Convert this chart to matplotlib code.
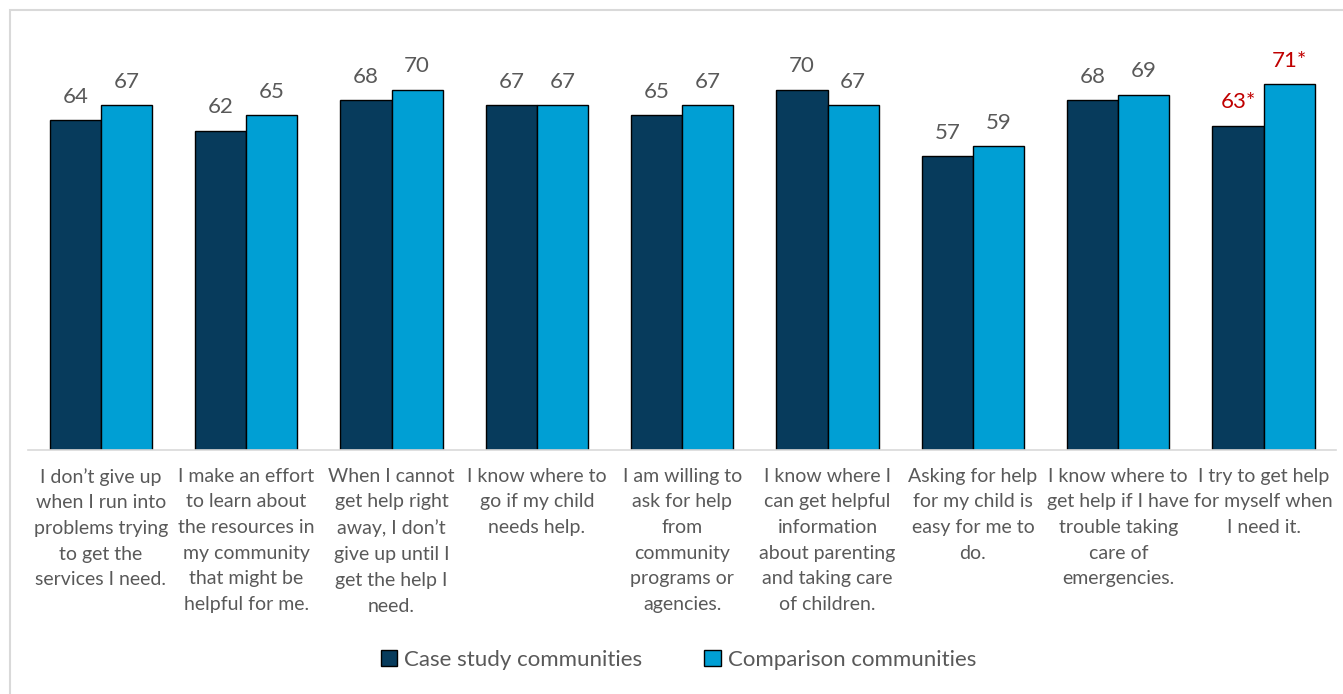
import numpy as np
import matplotlib.pyplot as plt
from matplotlib.patches import Rectangle

plt.rcParams['font.family'] = ['Lato', 'DejaVu Sans']

categories = [
    "I don\u2019t give up\nwhen I run into\nproblems trying\nto get the\nservices I need.",
    "I make an effort\nto learn about\nthe resources in\nmy community\nthat might be\nhelpful for me.",
    "When I cannot\nget help right\naway, I don\u2019t\ngive up until I\nget the help I\nneed.",
    "I know where to\ngo if my child\nneeds help.",
    "I am willing to\nask for help\nfrom\ncommunity\nprograms or\nagencies.",
    "I know where I\ncan get helpful\ninformation\nabout parenting\nand taking care\nof children.",
    "Asking for help\nfor my child is\neasy for me to\ndo.",
    "I know where to\nget help if I have\ntrouble taking\ncare of\nemergencies.",
    "I try to get help\nfor myself when\nI need it.",
]
case_study = [64, 62, 68, 67, 65, 70, 57, 68, 63]
comparison = [67, 65, 70, 67, 67, 67, 59, 69, 71]
significant = [False] * 8 + [True]

dark = "#073b5c"
light = "#009fd4"
text_gray = "#595959"
red = "#c00000"

fig = plt.figure(figsize=(13.43, 6.94), dpi=100)
ax = fig.add_axes([0.021, 0.352, 0.974, 0.593])

x = np.arange(len(categories))
w = 0.352
ax.bar(x - w / 2, case_study, w, color=dark, edgecolor="black", linewidth=1,
       label="Case study communities")
ax.bar(x + w / 2, comparison, w, color=light, edgecolor="black", linewidth=1,
       label="Comparison communities")

# value labels above each bar, red with asterisk where the gap is significant
for i in range(len(x)):
    col = red if significant[i] else text_gray
    suffix = "*" if significant[i] else ""
    ax.text(x[i] - w / 2, case_study[i] + 2.6, f"{case_study[i]}{suffix}",
            ha="center", va="bottom", fontsize=16, color=col)
    ax.text(x[i] + w / 2, comparison[i] + 2.6, f"{comparison[i]}{suffix}",
            ha="center", va="bottom", fontsize=16, color=col)

ax.set_xlim(-0.5, len(x) - 0.5)
ax.set_ylim(0, 80)
ax.set_yticks([])
ax.set_xticks(x)
ax.set_xticklabels(categories, fontsize=14, color=text_gray, linespacing=1.62,
                   va="top")
ax.tick_params(axis="x", length=0, pad=13)
for s in ["top", "left", "right"]:
    ax.spines[s].set_visible(False)
ax.spines["bottom"].set_color("#d9d9d9")
ax.spines["bottom"].set_linewidth(1.2)

leg = fig.legend(loc="center", bbox_to_anchor=(0.505, 0.049), ncol=2, frameon=False,
                 fontsize=16, handlelength=0.75, handleheight=0.75,
                 handletextpad=0.3, columnspacing=2.8)
for t in leg.get_texts():
    t.set_color(text_gray)

# outer chart border
fig.patches.append(Rectangle((0.0075, -0.01), 1.1, 0.996, transform=fig.transFigure,
                             fill=False, edgecolor="#d9d9d9", linewidth=1.5))

fig.savefig("out.png", dpi=100)
